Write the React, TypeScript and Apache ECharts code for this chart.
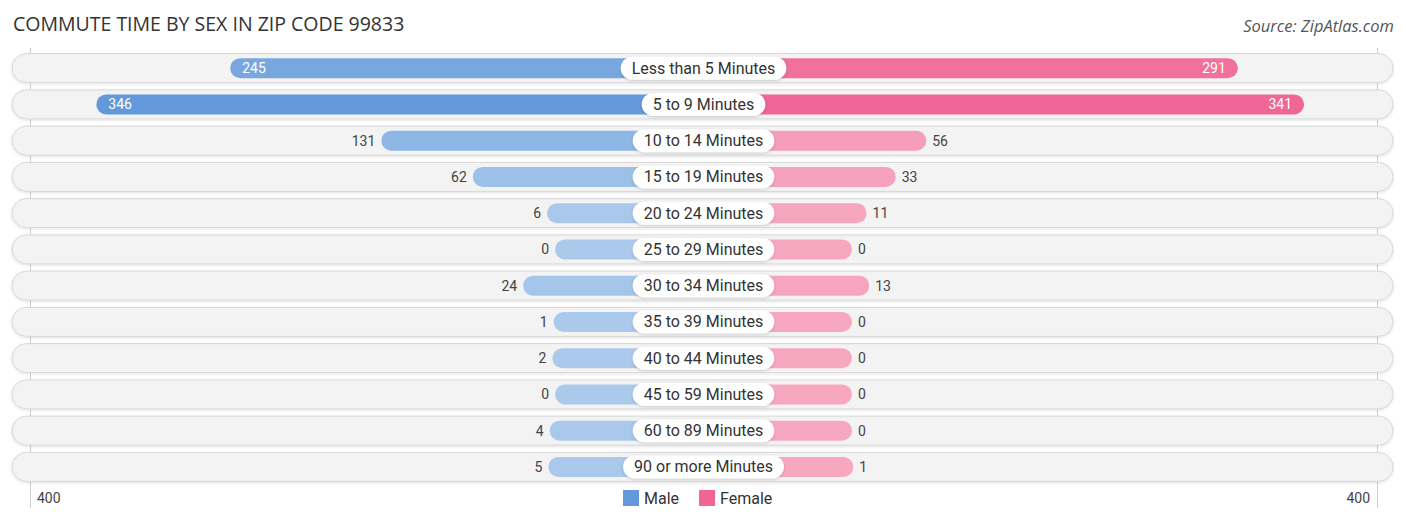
import React, { useEffect, useRef } from "react";
import * as echarts from "echarts";

const categories = [
  "Less than 5 Minutes",
  "5 to 9 Minutes",
  "10 to 14 Minutes",
  "15 to 19 Minutes",
  "20 to 24 Minutes",
  "25 to 29 Minutes",
  "30 to 34 Minutes",
  "35 to 39 Minutes",
  "40 to 44 Minutes",
  "45 to 59 Minutes",
  "60 to 89 Minutes",
  "90 or more Minutes",
];
const maleValues = [245, 346, 131, 62, 6, 0, 24, 1, 2, 0, 4, 5];
const femaleValues = [291, 341, 56, 33, 11, 0, 13, 0, 0, 0, 0, 1];
const axisMaxLabel = "400";

const OFF = 112; // half label-box offset in axis units
const AX = 508; // axis half-range (the 400 gridline)
const INSIDE_MIN = 200;

function mix(a: number[], b: number[], t: number) {
  const c = a.map((v, i) => Math.round(v + (b[i] - v) * t));
  return `rgb(${c[0]},${c[1]},${c[2]})`;
}
const MALE_LIGHT = [170, 201, 235];
const MALE_DARK = [99, 153, 219];
const FEMALE_LIGHT = [247, 168, 192];
const FEMALE_DARK = [240, 101, 149];

export default function App() {
  const ref = useRef<HTMLDivElement>(null);
  useEffect(() => {
    if (!ref.current) return;
    const chart = echarts.init(ref.current, null, { renderer: "svg" });
    const maxV = 346;
    const maleData = maleValues.map((v) => ({
      value: -(v + OFF),
      itemStyle: { color: mix(MALE_LIGHT, MALE_DARK, Math.min(1, v / maxV)) },
      label: v >= INSIDE_MIN
        ? { position: "insideLeft", color: "#fff", distance: 12 }
        : { position: "left", color: "#444", distance: 6 },
    }));
    const femaleData = femaleValues.map((v) => ({
      value: v + OFF,
      itemStyle: { color: mix(FEMALE_LIGHT, FEMALE_DARK, Math.min(1, v / maxV)) },
      label: v >= INSIDE_MIN
        ? { position: "insideRight", color: "#fff", distance: 12 }
        : { position: "right", color: "#444", distance: 6 },
    }));

    chart.setOption({
      animation: false,
      backgroundColor: "#fff",
      title: [
        {
          text: "COMMUTE TIME BY SEX IN ZIP CODE 99833",
          left: 8,
          top: 8,
          textStyle: { fontFamily: "Open Sans", fontSize: 19.5, fontWeight: "normal", color: "#333" },
        },
        {
          text: "Source: ZipAtlas.com",
          right: 7,
          top: 12,
          textStyle: { fontFamily: "Open Sans", fontSize: 16.5, fontStyle: "italic", fontWeight: "normal", color: "#555" },
        },
      ],
      legend: {
        bottom: 12,
        left: 618,
        itemWidth: 16,
        itemHeight: 16,
        itemGap: 20,
        icon: "rect",
        textStyle: { fontFamily: "Roboto", fontSize: 16, color: "#333" },
        data: ["Male", "Female"],
      },
      grid: [
        { left: 30, right: 29, top: 50, bottom: 38 },
        { left: 30, right: 29, top: 48, bottom: 15 },
      ],
      xAxis: [
        { gridIndex: 0, type: "value", min: -AX, max: AX, show: false },
        {
          gridIndex: 1,
          type: "value",
          min: -AX,
          max: AX,
          interval: AX,
          axisLine: { show: false },
          axisTick: { show: false },
          splitLine: { show: true, lineStyle: { color: ["#cfcfcf", "rgba(0,0,0,0)", "#cfcfcf"], width: 1 } },
          axisLabel: {
            inside: true,
            margin: 3,
            fontFamily: "Roboto",
            fontSize: 14,
            color: "#444",
            padding: [0, 7, 0, 7],
            alignMinLabel: "left",
            alignMaxLabel: "right",
            formatter: (v: number) => (Math.abs(v) === AX ? axisMaxLabel : ""),
          },
        },
      ],
      yAxis: [
        { gridIndex: 0, type: "category", data: categories, inverse: true, show: false },
        { gridIndex: 1, type: "value", show: false, min: 0, max: 1 },
      ],
      series: [
        {
          type: "custom",
          name: "bg",
          xAxisIndex: 0,
          yAxisIndex: 0,
          silent: true,
          z: 0,
          data: categories.map((_, i) => i),
          renderItem: (params: any, api: any) => {
            const idx = api.value(0);
            const p0 = api.coord([-AX, idx]);
            const p1 = api.coord([AX, idx]);
            const h = 29;
            const x0 = p0[0] - 18;
            const x1 = p1[0] + 16;
            return {
              type: "rect",
              shape: { x: x0, y: p0[1] - h / 2, width: x1 - x0, height: h, r: h / 2 },
              style: {
                fill: "#f3f3f3",
                stroke: "#d8d8d8",
                lineWidth: 1,
                shadowBlur: 3,
                shadowOffsetY: 1,
                shadowColor: "rgba(0,0,0,0.12)",
              },
            };
          },
          encode: { x: -1, y: 0 },
        },
        {
          type: "bar",
          name: "Male",
          xAxisIndex: 0,
          yAxisIndex: 0,
          barWidth: 20,
          barGap: "-100%",
          z: 2,
          itemStyle: { color: "#6399db", borderRadius: 10 },
          label: {
            show: true,
            fontFamily: "Roboto",
            fontSize: 14,
            formatter: (p: any) => String(maleValues[p.dataIndex]),
          },
          data: maleData,
        },
        {
          type: "bar",
          name: "Female",
          xAxisIndex: 0,
          yAxisIndex: 0,
          barWidth: 20,
          barGap: "-100%",
          z: 2,
          itemStyle: { color: "#f06595", borderRadius: 10 },
          label: {
            show: true,
            fontFamily: "Roboto",
            fontSize: 14,
            formatter: (p: any) => String(femaleValues[p.dataIndex]),
          },
          data: femaleData,
        },
        {
          type: "scatter",
          name: "labels",
          xAxisIndex: 0,
          yAxisIndex: 0,
          symbolSize: 1,
          z: 5,
          silent: true,
          itemStyle: { color: "rgba(0,0,0,0)", opacity: 1 },
          label: {
            show: true,
            position: "inside",
            fontFamily: "Roboto",
            fontSize: 16,
            color: "#333",
            backgroundColor: "#ffffff",
            borderRadius: 12,
            padding: [4, 11, 3, 11],
            shadowBlur: 3,
            shadowOffsetY: 1,
            shadowColor: "rgba(0,0,0,0.18)",
            formatter: (p: any) => categories[p.dataIndex],
          },
          data: categories.map((c) => [0, c]),
        },
      ],
    });
    return () => chart.dispose();
  }, []);
  return (
    <div
      ref={ref}
      style={{ position: "fixed", left: 0, top: 0, width: 1406, height: 523 }}
    />
  );
}
